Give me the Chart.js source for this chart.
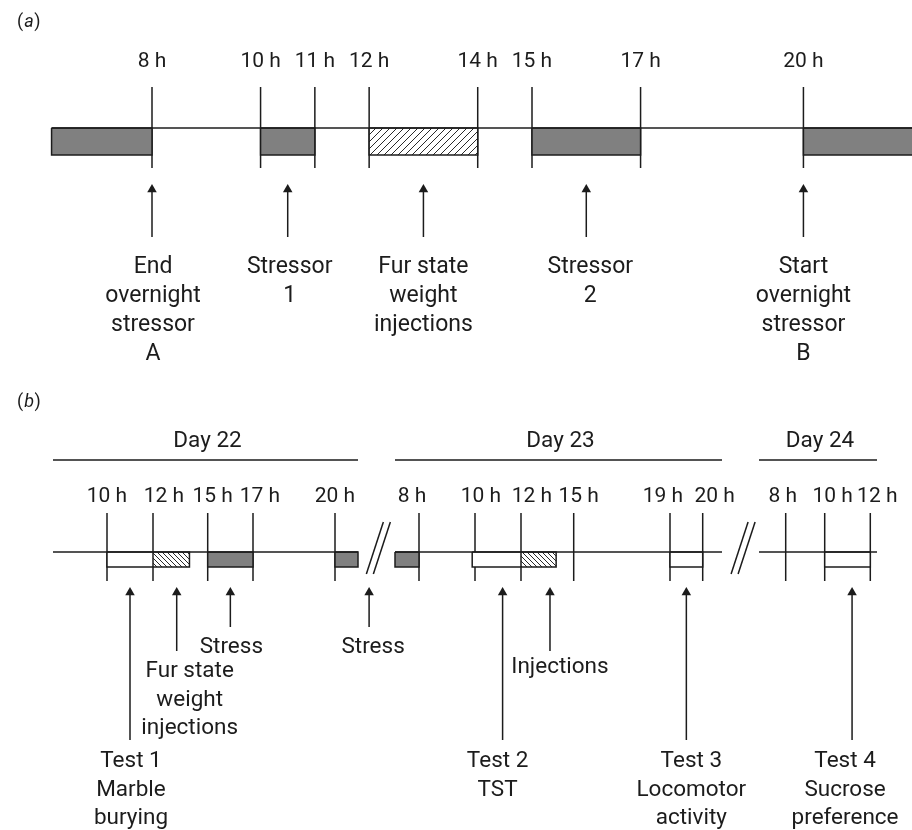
<!DOCTYPE html>
<html>
<head>
<meta charset="utf-8">
<title>Stress protocol timeline</title>
<script src="https://cdn.jsdelivr.net/npm/chart.js@4.4.1/dist/chart.umd.min.js"></script>
<style>
  html, body { margin: 0; padding: 0; background: #fff; }
  #timeline { display: block; }
</style>
</head>
<body>
<canvas id="timeline" width="912" height="830"></canvas>
<script>
// ---------- panel (a): one stress day, clock hours ----------
const aTickHours = [8, 10, 11, 12, 14, 15, 17, 20];
const aTickLabels = ["8 h", "10 h", "11 h", "12 h", "14 h", "15 h", "17 h", "20 h"];
const aStressBlocks = [[6.15, 8], [10, 11], [15, 17], [20, 22.2]];
const aHandlingBlocks = [[12, 14]];
const aEventHours = [8, 10.5, 13, 16, 20];
const aEventLabels = [
  ["End", "overnight", "stressor", "A"],
  ["Stressor", "1"],
  ["Fur state", "weight", "injections"],
  ["Stressor", "2"],
  ["Start", "overnight", "stressor", "B"],
];

// ---------- panel (b): days 22-24, hours counted from day 22 00:00 ----------
const bDays = ["Day 22", "Day 23", "Day 24"];
const bDaySpans = [[8, 21], [31, 45], [55, 60.25]];
const bTickHours = [10, 12, 15, 17, 20, 32, 34, 36, 39, 43, 44, 56, 58, 60];
const bTickLabels = ["10 h", "12 h", "15 h", "17 h", "20 h",
  "8 h", "10 h", "12 h", "15 h", "19 h", "20 h",
  "8 h", "10 h", "12 h"];
const bStressBlocks = [[15, 17], [20, 21], [31, 32]];
const bHandlingBlocks = [[12, 14], [36, 38]];
const bTestBlocks = [[10, 12], [33.9, 36], [43, 44], [58, 60]];
const bEventHours = [11, 13.3, 16, 24, 35.2, 37.65, 43.5, 59.2];
const bEventLabels = [
  ["Test 1", "Marble", "burying"],
  ["Fur state", "weight", "injections"],
  ["Stress"],
  ["Stress"],
  ["Test 2", "TST"],
  ["Injections"],
  ["Test 3", "Locomotor", "activity"],
  ["Test 4", "Sucrose", "preference"],
];
const bBreakHours = [26.5, 50.7];

// ---------- layout (figure units, y grows downwards) ----------
const FIG_W = 912;
const INK = "#1c1c1c";
const GREY = "#808080";
const HEAD = 5.5;
const A = { hourBase: 67, tickTop: 87, tickBottom: 168, line: 128, boxBottom: 155,
  arrowTip: 184, arrowEnd: 237, textBase: 273, pitch: 29, font: 23, labelDx: [1, 2, 0, 4, 0] };
const B = { dayBase: 447, dayLine: 460, hourBase: 502, tickTop: 513, tickBottom: 581,
  line: 552, boxBottom: 567, arrowTip: 587, breakTop: 522, breakBottom: 574, pitch: 28.5, font: 22.5 };
// hour labels in (b) sit a little off their ticks
const B_HOUR_DX = [0, 11, 5, 7, 0, -7, 6, 11, 5, -7, 12, -3, 8, 7];
const B_EVENT_LAYOUT = [
  { end: 740, base: 767, dx: 1 },
  { end: 651, base: 677, dx: 13 },
  { end: 627, base: 653, dx: 1 },
  { end: 627, base: 653, dx: 4 },
  { end: 740, base: 767, dx: -5 },
  { end: 651, base: 673, dx: 10 },
  { end: 740, base: 767, dx: 5 },
  { end: 740, base: 767, dx: -7 },
];
// panel (b) is not drawn to scale: hour -> x on the figure
const B_KNOTS = [[8, 53], [10, 107], [12, 153], [15, 207.7], [17, 253], [20, 335], [21, 358],
  [31, 395], [32, 419], [34, 475], [36, 521], [39, 573.7], [43, 670], [44, 702.7], [45, 722],
  [55, 759], [56, 785.7], [58, 824.7], [60, 870.3], [60.25, 877]];

function knotFraction(v) {
  let i = 1;
  while (i < B_KNOTS.length - 1 && v > B_KNOTS[i][0]) i++;
  const [t0, p0] = B_KNOTS[i - 1];
  const [t1, p1] = B_KNOTS[i];
  return (p0 + (v - t0) * (p1 - p0) / (t1 - t0)) / FIG_W;
}

class SchematicScale extends Chart.LinearScale {
  getPixelForValue(value) {
    if (value === null || value === undefined || isNaN(value)) return NaN;
    return this.left + knotFraction(value) * this.width;
  }
  getValueForPixel(pixel) {
    const f = (pixel - this.left) / this.width * FIG_W;
    for (let i = 1; i < B_KNOTS.length; i++) {
      const [t0, p0] = B_KNOTS[i - 1];
      const [t1, p1] = B_KNOTS[i];
      if (f <= p1 || i === B_KNOTS.length - 1) return t0 + (f - p0) * (t1 - t0) / (p1 - p0);
    }
    return NaN;
  }
}
SchematicScale.id = "schematic";
Chart.register(SchematicScale);

const canvas = document.getElementById("timeline");
const ctx = canvas.getContext("2d");

function hatch(step, slash) {
  const tile = document.createElement("canvas");
  tile.width = step;
  tile.height = step;
  const g = tile.getContext("2d");
  g.fillStyle = "#fff";
  g.fillRect(0, 0, step, step);
  g.strokeStyle = "#2a2a2a";
  g.lineWidth = 1;
  g.beginPath();
  if (slash) {
    g.moveTo(-1, step + 1); g.lineTo(step + 1, -1);
    g.moveTo(-1, 1); g.lineTo(1, -1);
    g.moveTo(step - 1, step + 1); g.lineTo(step + 1, step - 1);
  } else {
    g.moveTo(-1, -1); g.lineTo(step + 1, step + 1);
    g.moveTo(step - 1, -1); g.lineTo(step + 1, 1);
    g.moveTo(-1, step - 1); g.lineTo(1, step + 1);
  }
  g.stroke();
  return ctx.createPattern(tile, "repeat");
}
const HATCH_A = hatch(7, true);
const HATCH_B = hatch(5, false);

// ---------- dataset helpers ----------
const pt = (x, y) => ({ x, y });
const gap = () => ({ x: NaN, y: NaN });
function join(paths) {
  const out = [];
  paths.forEach(p => out.push(...p, gap()));
  return out;
}
function rect([x1, x2], top, bottom) {
  return [pt(x1, top), pt(x2, top), pt(x2, bottom), pt(x1, bottom), pt(x1, top)];
}
function strokes(axis, paths, width, order) {
  return { xAxisID: axis, data: join(paths), borderColor: INK, borderWidth: width,
    pointRadius: 0, fill: false, order };
}
function block(axis, [x1, x2], top, bottom, color) {
  return { xAxisID: axis, data: [pt(x1, top), pt(x2, top)], borderColor: "transparent",
    borderWidth: 0, pointRadius: 0, fill: { value: bottom }, backgroundColor: color, order: 2 };
}
function arrows(axis, xs, tip, ends) {
  const paths = xs.map((x, i) => [{ x, y: tip + HEAD, tip: true }, pt(x, ends[i])]);
  return { xAxisID: axis, data: join(paths), borderColor: INK, borderWidth: 1.5, fill: false,
    pointStyle: "triangle", pointBackgroundColor: INK, pointBorderWidth: 0,
    pointRadius: c => (c.raw && c.raw.tip ? HEAD : 0), order: 1 };
}

const datasets = [];
// panel (a)
datasets.push(strokes("xa", aTickHours.map(h => [pt(h, A.tickTop), pt(h, A.tickBottom)]), 1.5, 3));
aStressBlocks.forEach(b => datasets.push(block("xa", b, A.line, A.boxBottom, GREY)));
aHandlingBlocks.forEach(b => datasets.push(block("xa", b, A.line, A.boxBottom, HATCH_A)));
datasets.push(strokes("xa", [[pt(aStressBlocks[0][0], A.line), pt(22.2, A.line)]], 1.5, 1));
datasets.push(strokes("xa", aStressBlocks.concat(aHandlingBlocks).map(b => rect(b, A.line, A.boxBottom)), 1.5, 1));
datasets.push(arrows("xa", aEventHours, A.arrowTip, aEventHours.map(() => A.arrowEnd)));

// panel (b)
datasets.push(strokes("xb", bTickHours.map(h => [pt(h, B.tickTop), pt(h, B.tickBottom)]), 1.5, 3));
bStressBlocks.forEach(b => datasets.push(block("xb", b, B.line, B.boxBottom, GREY)));
bHandlingBlocks.forEach(b => datasets.push(block("xb", b, B.line, B.boxBottom, HATCH_B)));
bTestBlocks.forEach(b => datasets.push(block("xb", b, B.line, B.boxBottom, "#fff")));
datasets.push(strokes("xb", bDaySpans.map(([s, e]) => [pt(s, B.dayLine), pt(e, B.dayLine)]), 1.5, 1));
datasets.push(strokes("xb", bDaySpans.map(([s, e]) => [pt(s, B.line), pt(e, B.line)]), 1.5, 1));
datasets.push(strokes("xb", bStressBlocks.concat(bHandlingBlocks, bTestBlocks).map(b => rect(b, B.line, B.boxBottom)), 1.5, 1));
datasets.push(arrows("xb", bEventHours, B.arrowTip, B_EVENT_LAYOUT.map(l => l.end)));

// ---------- text and axis breaks ----------
function panelLetter(c, letter, x, yb) {
  c.textAlign = "left";
  c.font = "18px Roboto";
  c.fillText("(", x, yb);
  let w = c.measureText("(").width;
  c.font = "italic 18px Roboto";
  c.fillText(letter, x + w + 1, yb);
  w += c.measureText(letter).width + 1.5;
  c.font = "18px Roboto";
  c.fillText(")", x + w, yb);
  c.textAlign = "center";
}
function lines(c, rows, x, base, pitch) {
  rows.forEach((r, i) => c.fillText(r, x, base + i * pitch));
}

const annotate = {
  id: "annotate",
  afterDatasetsDraw(chart) {
    const c = chart.ctx;
    const { xa, xb, y } = chart.scales;
    const py = v => y.getPixelForValue(v);
    c.save();
    c.fillStyle = INK;
    c.strokeStyle = INK;
    c.textBaseline = "alphabetic";
    panelLetter(c, "a", 17, py(27));
    panelLetter(c, "b", 17, py(407));

    c.font = "21px Roboto";
    aTickHours.forEach((h, i) => c.fillText(aTickLabels[i], xa.getPixelForValue(h), py(A.hourBase)));
    bTickHours.forEach((h, i) =>
      c.fillText(bTickLabels[i], xb.getPixelForValue(h) + B_HOUR_DX[i], py(B.hourBase)));

    c.font = A.font + "px Roboto";
    aEventHours.forEach((h, i) =>
      lines(c, aEventLabels[i], xa.getPixelForValue(h) + A.labelDx[i], py(A.textBase), A.pitch));

    c.font = B.font + "px Roboto";
    bDays.forEach((d, i) => {
      const [s, e] = bDaySpans[i];
      c.fillText(d, (xb.getPixelForValue(s) + xb.getPixelForValue(e)) / 2 + 2, py(B.dayBase));
    });
    bEventHours.forEach((h, i) => {
      const l = B_EVENT_LAYOUT[i];
      lines(c, bEventLabels[i], xb.getPixelForValue(h) + l.dx, py(l.base), B.pitch);
    });

    c.lineWidth = 1.5;
    bBreakHours.forEach(h => {
      const cx = xb.getPixelForValue(h);
      [-3.5, 3.5].forEach(off => {
        c.beginPath();
        c.moveTo(cx + off - 8.5, py(B.breakBottom));
        c.lineTo(cx + off + 8.5, py(B.breakTop));
        c.stroke();
      });
    });
    c.restore();
  },
};

new Chart(ctx, {
  type: "line",
  data: { datasets },
  options: {
    responsive: false,
    animation: false,
    events: [],
    layout: { padding: 0, autoPadding: false },
    plugins: { legend: { display: false }, tooltip: { enabled: false } },
    scales: {
      xa: { type: "linear", display: false, min: 5.2, max: 22 },
      xb: { type: "schematic", display: false, min: 0, max: 62 },
      y: { type: "linear", display: false, min: 0, max: 830, reverse: true },
    },
  },
  plugins: [annotate],
});
</script>
</body>
</html>
